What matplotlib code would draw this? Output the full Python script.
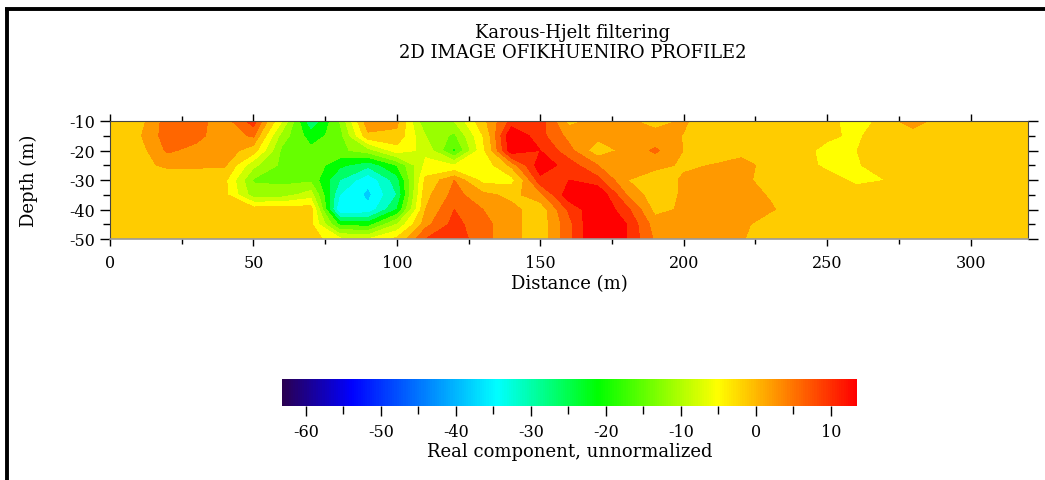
import numpy as np
from matplotlib import pyplot as plt
from matplotlib.cm import ScalarMappable
from matplotlib.colors import LinearSegmentedColormap, ListedColormap, BoundaryNorm, Normalize
from matplotlib.lines import Line2D
from matplotlib.ticker import MultipleLocator

plt.rcParams['font.family'] = ['DejaVu Serif']
plt.rcParams['axes.unicode_minus'] = False

distance = np.arange(0, 330, 10)
depth = [-10, -15, -20, -25, -30, -35, -40, -45, -50]

# real component, one list per depth, every 10 m
row_10 = [0, 0.5, 6.5, 6, 3.5, 9.5, -6, -26, -14, 5, 3, -14, -10, 1, 9, 9.5, 1, 3, 2.5, 1, 2.3, 0.5, 0, 0, 0, 0, -5, 0, 4, 0, 0, 0, 0]
row_15 = [0, 1.5, 6.5, 6, 3, 5.5, -12, -20, -16, 1, 1, -10, -15, -2, 14, 9, 4, 3, 3, 3, 1.9, 0, 0, 0, 0, -1, -3, 1, 0, 0, 0, 0, 0]
row_20 = [0, 0.5, 5.5, 4, 4, 0, -15, -17, -15, -12, -4, -7, -19, -3, 13, 11, 6, 0, 3, 5.5, 1.9, 0, 0.5, 0, 0, -3.5, -2.1, 0, 0, 0, 0, 0, 0]
row_25 = [0, 1.2, 2.5, 2.5, 2.5, -9, -15, -15, -21, -25, -18, -5, -6, -5, 3, 13, 9.5, 5, 3, 3, 1.5, 2.1, 3.5, 0.5, 0, -3, -2.5, 0, 0, 0, 0, 0, 0]
row_30 = [0, 0, 0, 0, -1, -14.5, -15, -15, -26, -33, -24, -1, 5, -3.5, -3.5, 10, 11, 9, 2.1, 0, 2.5, 3, 3, 0.5, 0, 0, -3, -2.05, 1, 0, 0, 0, 0]
row_35 = [0, 0, 0, 0, -1, -12, -12, -8, -30, -35, -26, 1, 6, 3, 1, 4, 13, 14, 5, 0, 2.5, 3, 3.5, 1.7, 0, 0, 0, 0, 0, 0, 0, 0, 0]
row_40 = [0, 0, 0, 0, 0, 0, 0.5, 0, -34, -33, -22, 2, 8, 5, 3, 0, 8.5, 14, 9, 1, 2.5, 3, 3, 2.5, 0, 0, 0, 0, 0, 0, 0, 0, 0]
row_45 = [0, 0, 0, 0, 0, 0, 0, -1, -19, -20, -10, 4, 9, 6, 3, 0, 7, 15, 11, 3.5, 3, 3, 3, 0, 0, 0, 0, 0, 0, 0, 0, 0, 0]
row_50 = [0, 0, 0, 0, 0, 0, 0, 0, -5, -6, -1, 8, 10, 6, 3, 0, 7, 15, 11, 4.5, 3, 3, 2.3, 0, 0, 0, 0, 0, 0, 0, 0, 0, 0]
values = np.array([row_10, row_15, row_20, row_25, row_30, row_35, row_40, row_45, row_50])

levels = [-40, -34, -30, -26, -22, -18, -14, -10, -6, -2, 2, 5, 8, 11, 20]
band_colors = ['#00ccff', '#00ffff', '#00ffcc', '#00ff66', '#00ff00', '#66ff00', '#99ff00',
               '#ccff00', '#ffff00', '#ffcc00', '#ff9900', '#ff6600', '#ff3300', '#ff0000']

bar_min, bar_max = -63.2, 13.5
bar_stops = [-63.2, -54, -34.5, -21, -5, 13.5]
bar_colors = ['#2a0050', '#0000ff', '#00ffff', '#00ff00', '#ffff00', '#ff0000']

fig = plt.figure(figsize=(10.45, 4.81), dpi=100)
W, H = 1045.0, 481.0

ax = fig.add_axes([110/W, (H-240)/H, 918/W, 118/H])
ax.contourf(distance, depth, values, levels=levels, cmap=ListedColormap(band_colors),
            norm=BoundaryNorm(levels, len(band_colors)), antialiased=False)
ax.set_xlim(0, 320)
ax.set_ylim(-50, -10)
ax.xaxis.set_major_locator(MultipleLocator(50))
ax.xaxis.set_minor_locator(MultipleLocator(25))
ax.yaxis.set_major_locator(MultipleLocator(10))
ax.yaxis.set_minor_locator(MultipleLocator(5))
ax.tick_params(axis='x', which='major', direction='out', top=True, length=5, width=1, labelsize=11.5, pad=6)
ax.tick_params(axis='x', which='minor', direction='out', top=True, length=3.5, width=1)
ax.tick_params(axis='y', which='major', direction='out', right=True, length=7.5, width=1, labelsize=11.5, pad=3)
ax.tick_params(axis='y', which='minor', direction='out', right=True, length=5, width=1)
ax.set_xlabel('Distance (m)', fontsize=13, labelpad=2)
ax.set_ylabel('Depth (m)', fontsize=13)
ax.yaxis.set_label_coords((38-110)/918, 0.5)
for s in ax.spines.values():
    s.set_linewidth(0.8)
    s.set_color('#444444')
ax.spines['bottom'].set_color('#999999')
ax.spines['bottom'].set_linewidth(1.2)

fig.text(573/W, 1-33/H, 'Karous-Hjelt filtering', ha='center', va='center', fontsize=13)
fig.text(573/W, 1-53/H, '2D IMAGE OFIKHUENIRO PROFILE2', ha='center', va='center', fontsize=13)

# colour bar
pos = [(v-bar_min)/(bar_max-bar_min) for v in bar_stops]
bar_cmap = LinearSegmentedColormap.from_list('bar', list(zip(pos, bar_colors)), N=256)
cax = fig.add_axes([282/W, (H-407)/H, 575/W, 27/H])
cb = fig.colorbar(ScalarMappable(Normalize(bar_min, bar_max), bar_cmap), cax=cax, orientation='horizontal')
cb.set_ticks(np.arange(-60, 20, 10))
cb.set_ticks(np.arange(-60, 15, 5), minor=True)
cb.ax.tick_params(which='major', length=7, width=1, labelsize=11.5, pad=5)
cb.ax.tick_params(which='minor', length=6, width=1)
cb.outline.set_visible(False)
cb.set_label('Real component, unnormalized', fontsize=13, labelpad=2)

# black frame of the screenshot, top and left only
fig.add_artist(Line2D([6.5/W, 6.5/W], [0, 1-9/H], color='black', lw=2.8, solid_capstyle='butt'))
fig.add_artist(Line2D([5/W, 1], [1-10/H, 1-10/H], color='black', lw=2.8, solid_capstyle='butt'))

fig.savefig('out.png', dpi=100)
